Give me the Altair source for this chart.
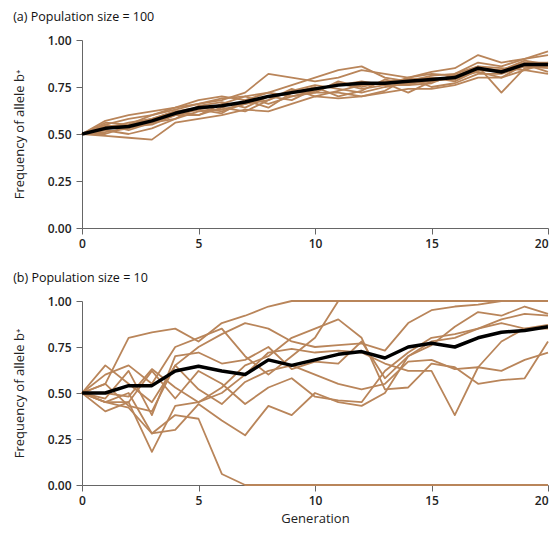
import altair as alt
import pandas as pd

generations = list(range(21))

# Panel (a): population size = 100
top_mean = [0.50, 0.53, 0.54, 0.57, 0.61, 0.64, 0.65, 0.67, 0.70, 0.72, 0.74,
            0.76, 0.77, 0.77, 0.78, 0.79, 0.80, 0.85, 0.83, 0.87, 0.87]
top_runs = [
    [0.50, 0.55, 0.58, 0.60, 0.63, 0.66, 0.68, 0.72, 0.82, 0.80, 0.78, 0.80, 0.84, 0.82, 0.80, 0.83, 0.85, 0.92, 0.88, 0.90, 0.92],
    [0.50, 0.52, 0.50, 0.53, 0.58, 0.62, 0.63, 0.66, 0.68, 0.73, 0.76, 0.74, 0.72, 0.75, 0.77, 0.78, 0.80, 0.86, 0.72, 0.85, 0.86],
    [0.50, 0.57, 0.60, 0.62, 0.64, 0.68, 0.70, 0.68, 0.72, 0.76, 0.80, 0.84, 0.86, 0.80, 0.78, 0.81, 0.82, 0.88, 0.86, 0.90, 0.94],
    [0.50, 0.49, 0.48, 0.47, 0.56, 0.58, 0.60, 0.63, 0.62, 0.66, 0.70, 0.69, 0.70, 0.72, 0.74, 0.74, 0.76, 0.80, 0.80, 0.84, 0.82],
    [0.50, 0.54, 0.55, 0.58, 0.62, 0.64, 0.62, 0.66, 0.70, 0.72, 0.72, 0.78, 0.75, 0.78, 0.79, 0.80, 0.79, 0.84, 0.84, 0.88, 0.88],
    [0.50, 0.51, 0.53, 0.56, 0.60, 0.60, 0.66, 0.70, 0.66, 0.70, 0.72, 0.72, 0.70, 0.73, 0.80, 0.75, 0.77, 0.82, 0.82, 0.86, 0.85],
    [0.50, 0.55, 0.52, 0.56, 0.58, 0.65, 0.67, 0.64, 0.70, 0.68, 0.74, 0.76, 0.78, 0.76, 0.76, 0.77, 0.82, 0.86, 0.85, 0.84, 0.88],
    [0.50, 0.53, 0.56, 0.58, 0.62, 0.60, 0.64, 0.62, 0.68, 0.74, 0.70, 0.73, 0.76, 0.77, 0.72, 0.78, 0.80, 0.83, 0.80, 0.87, 0.83],
    [0.50, 0.50, 0.54, 0.55, 0.60, 0.63, 0.61, 0.68, 0.64, 0.72, 0.75, 0.70, 0.73, 0.79, 0.76, 0.80, 0.78, 0.84, 0.83, 0.86, 0.86],
    [0.50, 0.56, 0.55, 0.60, 0.64, 0.66, 0.69, 0.70, 0.72, 0.70, 0.73, 0.77, 0.74, 0.76, 0.80, 0.82, 0.81, 0.85, 0.84, 0.89, 0.87],
]

# Panel (b): population size = 10
bottom_mean = [0.50, 0.50, 0.54, 0.54, 0.62, 0.645, 0.62, 0.60, 0.68, 0.65, 0.68,
               0.71, 0.725, 0.69, 0.75, 0.77, 0.75, 0.80, 0.83, 0.84, 0.86]
bottom_runs = [
    [0.50, 0.45, 0.42, 0.28, 0.38, 0.36, 0.06, 0.00, 0.00, 0.00, 0.00, 0.00, 0.00, 0.00, 0.00, 0.00, 0.00, 0.00, 0.00, 0.00, 0.00],
    [0.50, 0.55, 0.80, 0.83, 0.85, 0.78, 0.88, 0.92, 0.97, 1.00, 1.00, 1.00, 1.00, 1.00, 1.00, 1.00, 1.00, 1.00, 1.00, 1.00, 1.00],
    [0.50, 0.60, 0.65, 0.55, 0.75, 0.80, 0.85, 0.70, 0.60, 0.70, 0.80, 1.00, 1.00, 1.00, 1.00, 1.00, 1.00, 1.00, 1.00, 1.00, 1.00],
    [0.50, 0.65, 0.55, 0.45, 0.65, 0.75, 0.82, 0.88, 0.85, 0.78, 0.75, 0.76, 0.77, 0.73, 0.88, 0.95, 0.97, 0.98, 1.00, 1.00, 1.00],
    [0.50, 0.47, 0.62, 0.38, 0.70, 0.72, 0.66, 0.68, 0.75, 0.63, 0.67, 0.66, 0.78, 0.58, 0.70, 0.76, 0.86, 0.94, 0.92, 0.97, 0.93],
    [0.50, 0.40, 0.45, 0.18, 0.43, 0.45, 0.50, 0.60, 0.72, 0.74, 0.72, 0.73, 0.72, 0.66, 0.62, 0.62, 0.38, 0.64, 0.78, 0.85, 0.85],
    [0.50, 0.45, 0.50, 0.28, 0.30, 0.44, 0.35, 0.27, 0.43, 0.38, 0.50, 0.45, 0.43, 0.50, 0.70, 0.78, 0.80, 0.85, 0.90, 0.93, 0.92],
    [0.50, 0.50, 0.48, 0.63, 0.53, 0.45, 0.53, 0.65, 0.70, 0.80, 0.85, 0.90, 0.80, 0.52, 0.53, 0.66, 0.64, 0.55, 0.57, 0.58, 0.78],
    [0.50, 0.55, 0.43, 0.40, 0.65, 0.52, 0.44, 0.56, 0.62, 0.65, 0.60, 0.55, 0.52, 0.55, 0.67, 0.68, 0.63, 0.64, 0.62, 0.68, 0.72],
    [0.50, 0.45, 0.45, 0.62, 0.47, 0.62, 0.55, 0.44, 0.53, 0.58, 0.48, 0.46, 0.45, 0.62, 0.72, 0.80, 0.82, 0.85, 0.88, 0.85, 0.87],
]

x_ticks = [0, 5, 10, 15, 20]
y_ticks = [0, 0.25, 0.5, 0.75, 1.0]

BROWN = "#B9855A"
FONT = "Open Sans"
W = 466


def runs_frame(runs):
    rows = []
    for i, r in enumerate(runs):
        for g, v in zip(generations, r):
            rows.append({"run": i, "gen": g, "freq": v})
    return pd.DataFrame(rows)


def mean_frame(m):
    return pd.DataFrame({"gen": generations, "freq": m})


def panel(runs, mean, title, show_xtitle, h):
    x = alt.X("gen:Q",
              scale=alt.Scale(domain=[0, 20], nice=False),
              axis=alt.Axis(values=x_ticks, format="d",
                            title="Generation" if show_xtitle else None,
                            labelAlign=alt.expr("datum.value == 20 ? 'right' : 'center'"),
                            labelPadding=4,
                            titlePadding=6))
    y = alt.Y("freq:Q",
              scale=alt.Scale(domain=[0, 1], nice=False),
              axis=alt.Axis(values=y_ticks, format=".2f",
                            title="Frequency of allele b\u207A",
                            labelPadding=5,
                            titlePadding=21))
    brown = alt.Chart(runs_frame(runs)).mark_line(
        color=BROWN, strokeWidth=1.8, strokeJoin="round"
    ).encode(x=x, y=y, detail="run:N")
    black = alt.Chart(mean_frame(mean)).mark_line(
        color="black", strokeWidth=3.5, strokeJoin="round", clip=True
    ).encode(x="gen:Q", y="freq:Q")
    return alt.layer(brown, black).properties(
        width=W, height=h,
        title=alt.TitleParams(title, anchor="start", frame="bounds",
                              fontSize=12.5, font=FONT, fontWeight=500,
                              color="#111", offset=11))


chart = alt.vconcat(
    panel(top_runs, top_mean, "(a) Population size = 100", False, 188),
    panel(bottom_runs, bottom_mean, "(b) Population size = 10", True, 184),
    spacing=22,
).properties(
    padding={"left": 5, "top": 2, "right": 0, "bottom": 0}
).configure_view(stroke=None).configure_axis(
    grid=False,
    domainColor="#666",
    tickColor="#666",
    tickSize=6,
    labelFont=FONT,
    labelFontSize=12,
    labelFontWeight=600,
    labelColor="#222",
    titleFont=FONT,
    titleFontSize=13,
    titleFontWeight=400,
    titleColor="#222",
)

chart.save("out.html", embed_options={"renderer": "svg", "actions": False})
